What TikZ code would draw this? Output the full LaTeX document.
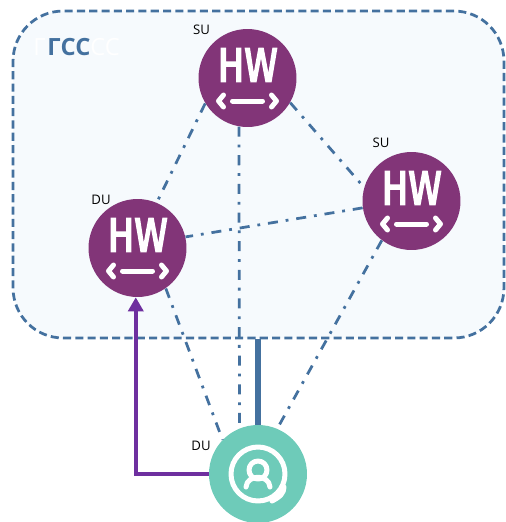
\documentclass[tikz,border=0pt]{standalone}
\usepackage{fontspec}
\setmainfont{Open Sans}
\newfontfamily\hwfont[FakeBold=4]{Fira Sans}
\usetikzlibrary{arrows.meta}
\definecolor{hwpurple}{HTML}{823578}
\definecolor{userteal}{HTML}{6ECBB9}
\definecolor{linkblue}{HTML}{44719F}
\definecolor{arrowpurple}{HTML}{6E2F9F}
\definecolor{boxfill}{HTML}{F6FAFD}
\tikzset{>={Triangle[length=0.28cm,width=0.3cm]}}
\tikzset{
  hwnode/.style={circle,fill=hwpurple,minimum size=1.96cm,inner sep=0pt},
  usernode/.style={circle,fill=userteal,minimum size=1.96cm,inner sep=0pt},
  role/.style={font=\fontsize{7.5}{7.5}\selectfont,inner sep=0pt,text=black},
  link/.style={linkblue,line width=0.055cm,dash pattern=on 5.7pt off 4.5pt on 1.6pt off 4.5pt},
  icon/.style={white,line width=0.1cm,line cap=round,line join=round},
}
\begin{document}
\begin{tikzpicture}[x=0.02cm,y=-0.02cm]
  \useasboundingbox (0,0) rectangle (506,522);

  % HELP FUNCTION
  \def\hwIcon(#1,#2){ % node, name of text
    \node[white,font=\hwfont\fontsize{27}{27}\selectfont,inner sep=0pt,
          xscale=0.84,transform shape] (#2) at ([yshift=0.26cm]#1.center) {HW};
    \begin{scope}[shift={(#1.center)}]
      \draw[icon] (-15,23) -- (15,23);
      \draw[icon] (-24,17) -- (-29,23) -- (-24,29);
      \draw[icon] (24,17) -- (29,23) -- (24,29);
    \end{scope}
  }

  % GROUP
  \node[draw=linkblue,fill=boxfill,line width=0.055cm,dash pattern=on 4.6pt off 2.4pt,
        rounded corners=1cm,minimum width=9.82cm,minimum height=6.54cm,inner sep=0pt]
    (group) at (258.5,174.5) {};
  \node[white,font=\fontsize{13.5}{13.5}\selectfont,inner sep=0pt,anchor=west] (titleA) at (33,47) {Γ};
  \node[linkblue,font=\bfseries\fontsize{13.5}{13.5}\selectfont,inner sep=0pt,anchor=west] (titleB) at (47,47) {ΓCC};
  \node[white,font=\fontsize{13.5}{13.5}\selectfont,inner sep=0pt,anchor=west] (titleC) at (90,47) {CC};

  % NODES
  \node[hwnode] (su1) at (247.5,78) {};
  \node[hwnode] (su2) at (411.5,201) {};
  \node[hwnode] (du1) at (137.5,248) {};
  \node[usernode] (user) at (258,474) {};

  \hwIcon(su1,hwsu1)
  \hwIcon(su2,hwsu2)
  \hwIcon(du1,hwdu1)

  % user icon
  \begin{scope}[shift={(user.center)}]
    \draw[icon] (0,0) circle[radius=27];
    \draw[icon] (0,-4) circle[radius=9];
    \draw[icon] (-12,13) .. controls (-11,0) and (11,0) .. (12,13);
    \draw[icon] (26,13) .. controls (26,19) and (22,23) .. (14,27);
  \end{scope}

  % LABELS
  \node[role] (lsu1) at (201.5,30) {SU};
  \node[role] (lsu2) at (381,143) {SU};
  \node[role] (ldu1) at (101,200) {DU};
  \node[role] (luser) at (201,446) {DU};

  % LINKS
  \draw[link] (su1.211) -- (du1.67);
  \draw[link] (su1.-30) -- (su2.164);
  \draw[link] (su1.260) -- (user.112);
  \draw[link] (su2.188) -- (du1.13);
  \draw[link] (su2.233) -- (user.67);
  \draw[link] (du1.-55) -- (user.136);

  % UPLINK
  \draw[linkblue,line width=0.11cm] (user.north) -- (user.north |- group.south);
  \draw[->,arrowpurple,line width=0.085cm] (user.west) -| (du1.268);
\end{tikzpicture}
\end{document}
